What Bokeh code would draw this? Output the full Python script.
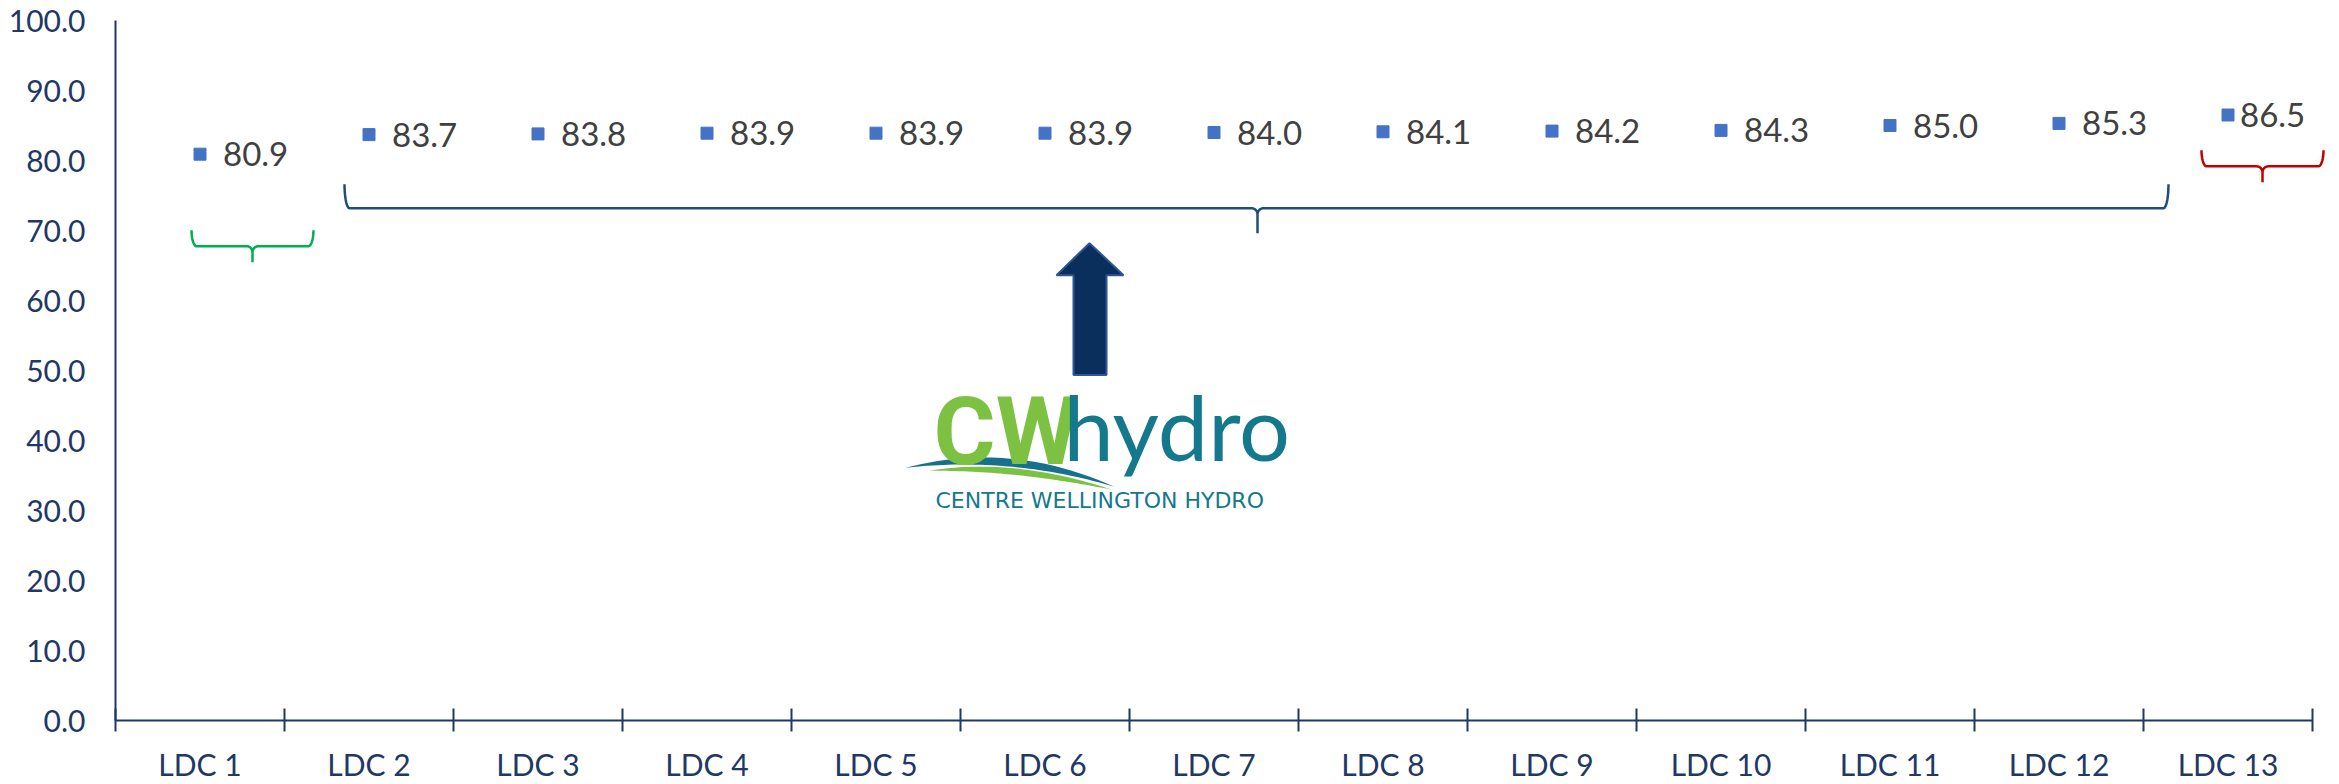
import numpy as np
from bokeh.plotting import figure
from bokeh.models import Range1d, FixedTicker, PrintfTickFormatter
from bokeh.core.properties import value
from bokeh.embed import file_html
from bokeh.resources import INLINE

# ---------------- data ----------------
categories = ["LDC 1", "LDC 2", "LDC 3", "LDC 4", "LDC 5", "LDC 6", "LDC 7",
              "LDC 8", "LDC 9", "LDC 10", "LDC 11", "LDC 12", "LDC 13"]
values = [80.9, 83.7, 83.8, 83.9, 83.9, 83.9, 84.0, 84.1, 84.2, 84.3, 85.0, 85.3, 86.5]
value_labels = ["80.9", "83.7", "83.8", "83.9", "83.9", "83.9", "84.0",
                "84.1", "84.2", "84.3", "85.0", "85.3", "86.5"]
y_ticks = [0, 10, 20, 30, 40, 50, 60, 70, 80, 90, 100]

# ---------------- layout helpers ----------------
PX_PER_X = 169.0
PX_PER_Y = 7.01
FRAME_LEFT = 115
FRAME_TOP = 20
FRAME_BOTTOM = 721

def px2x(px):
    return (np.asarray(px, dtype=float) - FRAME_LEFT) / PX_PER_X

def px2y(py):
    return (FRAME_BOTTOM - np.asarray(py, dtype=float)) / PX_PER_Y

NAVY = "#1f3864"
FONT = "Lato"

W, H = 2339, 784
p = figure(width=W, height=H, output_backend="svg", toolbar_location=None,
           x_range=Range1d(0, (W - FRAME_LEFT) / PX_PER_X), y_range=Range1d(0, 100),
           min_border_left=FRAME_LEFT, min_border_right=0, min_border_top=FRAME_TOP,
           min_border_bottom=H - FRAME_BOTTOM)
p.outline_line_color = None
p.xgrid.visible = False
p.ygrid.visible = False
p.background_fill_color = "white"
p.border_fill_color = "white"

# y axis
p.yaxis.ticker = FixedTicker(ticks=y_ticks)
p.yaxis.formatter = PrintfTickFormatter(format="%.1f")
p.yaxis.major_tick_in = 0
p.yaxis.major_tick_out = 0
p.yaxis.minor_tick_in = 0
p.yaxis.minor_tick_out = 0
p.yaxis.axis_line_color = NAVY
p.yaxis.axis_line_width = 2
p.yaxis.major_label_text_color = NAVY
p.yaxis.major_label_text_font = FONT
p.yaxis.major_label_text_font_size = "30px"
p.yaxis.major_label_standoff = 30

# x axis: labels at category centres, tick marks at category boundaries
n = len(categories)
centers = [i + 0.5 for i in range(n)]
p.xaxis.ticker = FixedTicker(ticks=centers, minor_ticks=[float(i) for i in range(n + 1)])
p.xaxis.major_label_overrides = {float(c): lab for c, lab in zip(centers, categories)}
p.xaxis.bounds = (0, n)
p.xaxis.major_tick_in = 0
p.xaxis.major_tick_out = 0
p.xaxis.minor_tick_in = 12
p.xaxis.minor_tick_out = 11
p.xaxis.minor_tick_line_color = NAVY
p.xaxis.minor_tick_line_width = 2
p.xaxis.axis_line_color = NAVY
p.xaxis.axis_line_width = 2
p.xaxis.major_label_text_color = NAVY
p.xaxis.major_label_text_font = FONT
p.xaxis.major_label_text_font_size = "30px"
p.xaxis.major_label_standoff = 14

# markers + data labels
p.scatter(centers, values, marker="square", size=12, color="#4472c4")
label_offsets = [23] * (n - 1) + [12]
p.text(x=centers, y=values, text=value_labels, x_offset=label_offsets,
       text_baseline="middle", text_align="left", text_color="#404040",
       text_font=value(FONT), text_font_size="33px")

# ---------------- braces ----------------
def arc(cx, cy, rx, ry, a0, a1, k=10):
    a = np.linspace(a0, a1, k)
    return list(cx + rx * np.cos(a)), list(cy + ry * np.sin(a))

def brace(x0, x1, xc, ytop, ymid, ytip, re=5, rt=6):
    xs, ys = [], []
    ax, ay = arc(x0 + re, ytop, re, ymid - ytop, np.pi, np.pi / 2)
    xs += ax; ys += ay
    ax, ay = arc(xc - rt, ymid + rt, rt, rt, -np.pi / 2, 0)
    xs += ax; ys += ay
    xs += [xc, xc]; ys += [ytip, ymid + rt]
    ax, ay = arc(xc + rt, ymid + rt, rt, rt, np.pi, 1.5 * np.pi)
    xs += ax; ys += ay
    ax, ay = arc(x1 - re, ytop, re, ymid - ytop, np.pi / 2, 0)
    xs += ax; ys += ay
    return px2x(xs), px2y(ys)

braces = [
    dict(x0=191, x1=313, xc=252, ytop=230, ymid=246, ytip=262, color="#00b050"),
    dict(x0=344, x1=2168, xc=1257, ytop=184, ymid=208, ytip=233, color="#1f4e79"),
    dict(x0=2201, x1=2323, xc=2262, ytop=150, ymid=166, ytip=182, color="#c00000"),
]
for b in braces:
    bx, by = brace(b["x0"], b["x1"], b["xc"], b["ytop"], b["ymid"], b["ytip"])
    p.line(bx, by, line_color=b["color"], line_width=2.5)

# ---------------- arrow ----------------
arrow_px = [(1089, 243), (1123, 275), (1106, 275), (1106, 375),
            (1073, 375), (1073, 275), (1056, 275)]
p.patch(px2x([a[0] for a in arrow_px]), px2y([a[1] for a in arrow_px]),
        fill_color="#0b2f5c", line_color="#2f5597", line_width=2)

# ---------------- logo ----------------
def quad(p0, c, p1, k=40):
    t = np.linspace(0, 1, k)
    x = (1 - t) ** 2 * p0[0] + 2 * t * (1 - t) * c[0] + t ** 2 * p1[0]
    y = (1 - t) ** 2 * p0[1] + 2 * t * (1 - t) * c[1] + t ** 2 * p1[1]
    return x, y

def band(p0, p1, ctop, cbot):
    tx, ty = quad(p0, ctop, p1)
    bx, by = quad(p1, cbot, p0)
    return px2x(np.concatenate([tx, bx])), px2y(np.concatenate([ty, by]))

gx, gy = band((928, 471), (1112, 490), (1012, 457), (1012, 470))
p.patch(gx, gy, fill_color="#7cc142", line_color=None)
sx, sy = band((905, 468), (1114, 487), (1010, 440), (1010, 456))
p.patch(sx, sy, fill_color="#17708c", line_color=None)

p.text(x=[float(px2x(933))], y=[float(px2y(487))], text=["CW"], text_baseline="bottom",
       text_align="left", text_color="#7cc142", text_font=value("Roboto"),
       text_font_style="bold", text_font_size="95px")
p.text(x=[float(px2x(1063))], y=[float(px2y(480))], text=["hydro"], text_baseline="bottom",
       text_align="left", text_color="#14798c", text_font=value(FONT), text_font_size="90px")
p.text(x=[float(px2x(935))], y=[float(px2y(513))], text=["CENTRE WELLINGTON HYDRO"],
       text_baseline="bottom", text_align="left", text_color="#14798c",
       text_font=value("DejaVu Sans"), text_font_size="22px")

open("out.html", "w").write(file_html(p, INLINE))
